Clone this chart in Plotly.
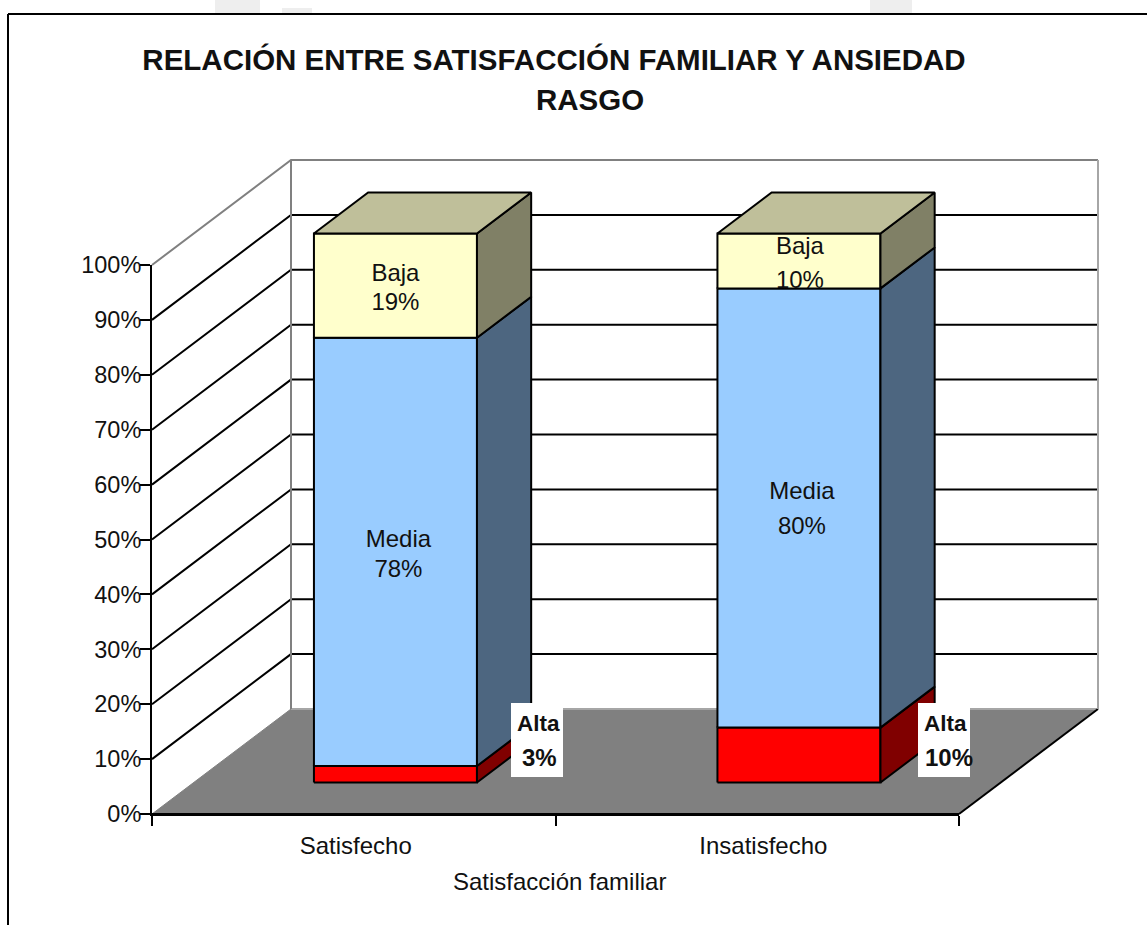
import plotly.graph_objects as go

# ---- data ----
categories = ["Satisfecho", "Insatisfecho"]
series_names = ["Alta", "Media", "Baja"]
alta = [3, 10]
media = [78, 80]
baja = [19, 10]
y_ticks = [0, 10, 20, 30, 40, 50, 60, 70, 80, 90, 100]

# ---- style ----
W, H = 1147, 925
X0, X2, Y0, Y100 = 152, 959, 814, 265   # pixel frame of the front axes
PX_X = 2 / (X2 - X0)                    # category units per pixel
PX_Y = 100 / (Y0 - Y100)                # percent per pixel
DX, DY = 139 * PX_X, 105 * PX_Y         # oblique depth vector
BAR_W = 0.404
D_FRONT, D_BACK = 0.30, 0.69
FRONT = {"Alta": "#FF0000", "Media": "#99CCFF", "Baja": "#FFFFCC"}
SIDE = {"Alta": "#800000", "Media": "#4D6680", "Baja": "#808066"}
TOP = "#BFBF9A"
FONT = "Liberation Sans, Arial, sans-serif"
FS = 23.5
GREY = "#808080"
# pixel nudges of each label's two lines from its bar face centre: (dx, dy line 1, dy line 2)
LABEL_NUDGE = {("Media", 0): (3, -11, 19), ("Baja", 0): (0, -11, 18),
               ("Media", 1): (3, -15, 20), ("Baja", 1): (1, -13, 21)}


def P(x, y, d=0.0):
    return x + d * DX, y + d * DY


def poly(pts, fill=None, line="black", lw=2):
    xs, ys = zip(*(pts + [pts[0]] if fill else pts))
    return go.Scatter(
        x=xs, y=ys, xaxis="x2", yaxis="y2", mode="lines" if lw else "none",
        fill="toself" if fill else None, fillcolor=fill,
        line=dict(color=line, width=lw if lw else 0), hoverinfo="skip",
        showlegend=False, line_simplify=False,
    )


fig = go.Figure()

# main axes (real ticks and labels); a hidden trace makes them exist
fig.add_trace(go.Scatter(x=[0, 2], y=[0, 100], mode="none", showlegend=False, hoverinfo="skip"))

# floor
fig.add_trace(poly([P(0, 0), P(2, 0), P(2, 0, 1), P(0, 0, 1)], fill=GREY, line=GREY, lw=1))
fig.add_trace(poly([P(0, 0, 1), P(2, 0, 1)], line="#A6A6A6", lw=2))
fig.add_trace(poly([P(2, 0), P(2, 0, 1)], lw=2))
fig.add_trace(poly([P(0, 0), P(2, 0)], lw=2))

# gridlines on side and back walls
for t in y_ticks[1:]:
    col = GREY if t == 100 else "black"
    fig.add_trace(poly([P(0, t), P(0, t, 1), P(2, t, 1)], line=col, lw=2))
# wall frame
fig.add_trace(poly([P(0, 0, 1), P(0, 100, 1)], line=GREY, lw=2))
fig.add_trace(poly([P(2, 0, 1), P(2, 100, 1)], line="#A6A6A6", lw=2))

# stacked 3D bars
label_x, label_y, label_t = [], [], []
for i, cat in enumerate(categories):
    xc = i + 0.5
    xl, xr = xc - BAR_W / 2, xc + BAR_W / 2
    base = 0
    for name, vals in zip(series_names, [alta, media, baja]):
        top = base + vals[i]
        fig.add_trace(poly(
            [P(xl, base, D_FRONT), P(xr, base, D_FRONT), P(xr, top, D_FRONT), P(xl, top, D_FRONT)],
            fill=FRONT[name]))
        fig.add_trace(poly(
            [P(xr, base, D_FRONT), P(xr, base, D_BACK), P(xr, top, D_BACK), P(xr, top, D_FRONT)],
            fill=SIDE[name]))
        if name != "Alta":
            lx, ly = P(xc, (base + top) / 2, D_FRONT)
            ndx, nd1, nd2 = LABEL_NUDGE[(name, i)]
            for txt, nd in [(name, nd1), (f"{vals[i]}%", nd2)]:
                label_x.append(lx + ndx * PX_X)
                label_y.append(ly - nd * PX_Y)
                label_t.append(txt)
        base = top
    fig.add_trace(poly(
        [P(xl, base, D_FRONT), P(xr, base, D_FRONT), P(xr, base, D_BACK), P(xl, base, D_BACK)],
        fill=TOP))

fig.add_trace(go.Scatter(
    x=label_x, y=label_y, text=label_t, mode="text", xaxis="x2", yaxis="y2",
    textposition="middle center", textfont=dict(family=FONT, size=FS + 0.5, color="#111"),
    hoverinfo="skip", showlegend=False, cliponaxis=False,
))


# helpers: pixel -> hidden-axis data
def px_x(p):
    return (p - X0) * PX_X


def px_y(p):
    return (Y0 - p) * PX_Y


# white boxes with the "Alta" labels
shapes = []
annots = []
for i, (bx, tx) in enumerate([(537, 538), (944, 945)]):
    shapes.append(dict(type="rect", xref="x2", yref="y2", layer="above",
                       x0=px_x(bx - 26), x1=px_x(bx + 26), y0=px_y(777), y1=px_y(703),
                       fillcolor="white", line=dict(width=0)))
    for ty, txt, fs in [(723, series_names[0], 22.5), (757, f"{alta[i]}%", 24)]:
        annots.append(dict(x=px_x(tx + (4 if ty == 757 and i == 1 else 1 if ty == 757 else 0)), y=px_y(ty), xref="x2", yref="y2",
                           text=f"<b>{txt}</b>", showarrow=False,
                           font=dict(family=FONT, size=fs, color="#111")))

# second title line and axis title
annots.append(dict(x=px_x(590), y=px_y(99), xref="x2", yref="y2", text="<b>RASGO</b>",
                   showarrow=False, font=dict(family=FONT, size=29.5, color="#111")))
annots.append(dict(x=px_x(559), y=px_y(881), xref="x2", yref="y2", text="Satisfacción familiar",
                   showarrow=False, font=dict(family=FONT, size=24, color="#111")))

# outer chart border and faint background remnants above it
shapes += [
    dict(type="line", xref="paper", yref="paper", x0=8 / W, x1=1, y0=1 - 14 / H, y1=1 - 14 / H,
         line=dict(color="black", width=2)),
    dict(type="line", xref="paper", yref="paper", x0=8 / W, x1=8 / W, y0=0, y1=1 - 14 / H,
         line=dict(color="black", width=2)),
    dict(type="rect", xref="paper", yref="paper", x0=215 / W, x1=260 / W, y0=1 - 13 / H, y1=1,
         fillcolor="#EEEEEE", line=dict(width=0), layer="below"),
    dict(type="rect", xref="paper", yref="paper", x0=282 / W, x1=312 / W, y0=1 - 13 / H, y1=1 - 8 / H,
         fillcolor="#EEEEEE", line=dict(width=0), layer="below"),
    dict(type="rect", xref="paper", yref="paper", x0=870 / W, x1=912 / W, y0=1 - 13 / H, y1=1,
         fillcolor="#EEEEEE", line=dict(width=0), layer="below"),
]

fig.update_layout(
    width=W, height=H, margin=dict(l=0, r=0, t=0, b=0, pad=0, autoexpand=False), autosize=False,
    paper_bgcolor="white", plot_bgcolor="rgba(0,0,0,0)", showlegend=False,
    font=dict(family=FONT, size=FS, color="#111"),
    title=dict(text="<b>RELACIÓN ENTRE SATISFACCIÓN FAMILIAR Y ANSIEDAD</b>",
               x=554 / W, xanchor="center", xref="paper", y=1 - 60 / H, yanchor="middle", yref="paper",
               font=dict(family=FONT, size=29.5, color="#111")),
    xaxis=dict(domain=[X0 / W, X2 / W], range=[0, 2], showgrid=False, zeroline=False,
               tickmode="array", tickvals=[0.505, 1.515], ticktext=categories, ticks="", ticklabelstandoff=9,
               minor=dict(tickmode="array", tickvals=[0, 1, 2], ticks="outside", ticklen=10, tickwidth=2, tickcolor="black"),
               showline=True, linecolor="black", linewidth=2, anchor="y",
               tickfont=dict(family=FONT, size=24, color="#111")),
    yaxis=dict(domain=[1 - Y0 / H, 1 - Y100 / H], range=[0, 100], showgrid=False, zeroline=False,
               tickmode="array", tickvals=y_ticks, ticktext=[f"{t}%" for t in y_ticks],
               ticks="outside", ticklen=10, tickwidth=2, tickcolor="black", ticklabelstandoff=-6,
               showline=True, linecolor="black", linewidth=2, anchor="x",
               tickfont=dict(family=FONT, size=FS, color="#111")),
    xaxis2=dict(domain=[0, 1], range=[px_x(0), px_x(W)], visible=False, anchor="y2"),
    yaxis2=dict(domain=[0, 1], range=[px_y(H), px_y(0)], visible=False, anchor="x2"),
    shapes=shapes, annotations=annots,
)

fig.write_html("out.html", post_script="document.body.style.margin='0';document.body.style.overflow='hidden';",
               config=dict(displayModeBar=False))
